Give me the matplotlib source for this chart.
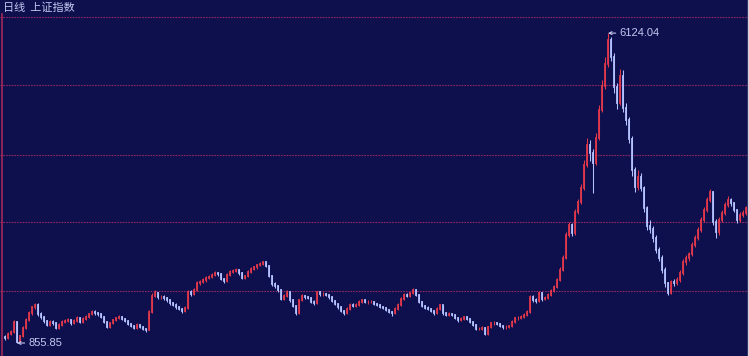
"""Shanghai Composite daily chart, dark terminal style"""
import matplotlib
matplotlib.use("Agg")
import matplotlib.pyplot as plt
import numpy as np

# levels, roughly one candle per 3 px column (late 1996 -> 2010)
closes = [
    941, 1009, 1043, 1213, 870, 975, 1111, 1247, 1366, 1468,
    1510, 1349, 1298, 1230, 1162, 1213, 1196, 1111, 1162, 1213,
    1230, 1247, 1196, 1230, 1281, 1213, 1264, 1298, 1349, 1383,
    1366, 1349, 1298, 1213, 1128, 1196, 1247, 1281, 1298, 1264,
    1230, 1179, 1145, 1111, 1162, 1128, 1094, 1077, 1383, 1655,
    1706, 1638, 1638, 1621, 1587, 1536, 1502, 1468, 1434, 1400,
    1451, 1723, 1689, 1757, 1876, 1893, 1927, 1961, 1978, 2012,
    2046, 2029, 1944, 1910, 2012, 2063, 2080, 2097, 2046, 1961,
    1995, 2063, 2114, 2148, 2182, 2199, 2230, 2165, 1995, 1859,
    1825, 1757, 1604, 1655, 1723, 1587, 1485, 1360, 1587, 1655,
    1638, 1621, 1553, 1536, 1723, 1689, 1689, 1672, 1638, 1570,
    1519, 1468, 1400, 1366, 1434, 1502, 1485, 1502, 1553, 1587,
    1553, 1553, 1553, 1519, 1502, 1468, 1451, 1417, 1383, 1366,
    1434, 1502, 1604, 1672, 1655, 1706, 1757, 1672, 1553, 1485,
    1451, 1434, 1400, 1366, 1434, 1502, 1366, 1332, 1349, 1332,
    1281, 1247, 1264, 1298, 1264, 1213, 1162, 1094, 1094, 1111,
    1010, 1128, 1196, 1196, 1179, 1145, 1128, 1128, 1145, 1213,
    1281, 1281, 1298, 1332, 1383, 1638, 1587, 1570, 1706, 1604,
    1621, 1672, 1740, 1808, 1927, 2097, 2301, 2692, 2862, 2726,
    3083, 3253, 3491, 3882, 4222, 4086, 3916, 4341, 4817, 5225,
    5600, 6000, 5718, 5200, 4936, 5400, 4850, 4650, 4330, 3797,
    3508, 3678, 3491, 3151, 2845, 2794, 2641, 2437, 2301, 2097,
    1876, 1710, 1893, 1876, 1927, 2046, 2233, 2301, 2369, 2522,
    2641, 2777, 2947, 3117, 3287, 3420, 2913, 2743, 2947, 3066,
    3202, 3287, 3236, 3117, 2947, 3032, 3066, 3151,
]
highs = [
    1000, 1040, 1080, 1250, 1230, 1000, 1140, 1280, 1400, 1490,
    1540, 1530, 1380, 1320, 1250, 1240, 1250, 1220, 1190, 1240,
    1260, 1280, 1270, 1260, 1310, 1300, 1290, 1330, 1370, 1410,
    1410, 1390, 1370, 1310, 1230, 1220, 1270, 1300, 1330, 1320,
    1280, 1250, 1200, 1160, 1190, 1180, 1150, 1110, 1410, 1700,
    1756, 1730, 1680, 1670, 1640, 1610, 1560, 1530, 1490, 1450,
    1480, 1750, 1760, 1790, 1910, 1930, 1960, 1990, 2010, 2040,
    2080, 2070, 2050, 1960, 2040, 2090, 2110, 2125, 2120, 2060,
    2020, 2090, 2140, 2170, 2200, 2225, 2245, 2240, 2180, 2010,
    1890, 1850, 1770, 1690, 1760, 1740, 1600, 1500, 1610, 1690,
    1680, 1660, 1640, 1580, 1748, 1740, 1720, 1710, 1690, 1650,
    1590, 1540, 1480, 1420, 1460, 1530, 1530, 1530, 1580, 1610,
    1600, 1590, 1580, 1570, 1540, 1520, 1490, 1470, 1430, 1400,
    1460, 1530, 1630, 1700, 1700, 1730, 1783, 1770, 1690, 1570,
    1500, 1480, 1450, 1410, 1460, 1520, 1510, 1380, 1380, 1370,
    1350, 1300, 1290, 1320, 1310, 1280, 1230, 1180, 1130, 1140,
    1130, 1150, 1220, 1230, 1220, 1190, 1160, 1160, 1170, 1240,
    1300, 1310, 1330, 1360, 1410, 1680, 1670, 1620, 1740, 1720,
    1660, 1700, 1770, 1840, 1960, 2140, 2350, 2740, 2920, 2900,
    3140, 3310, 3560, 3960, 4335, 4300, 4150, 4420, 4900, 5320,
    5720, 6124.04, 6050, 5780, 5280, 5520, 5500, 4930, 4700, 4380,
    3850, 3790, 3740, 3530, 3190, 2950, 2850, 2700, 2480, 2350,
    2140, 1900, 1930, 1950, 1980, 2090, 2280, 2350, 2410, 2570,
    2690, 2830, 3000, 3170, 3340, 3478, 3440, 2960, 2990, 3110,
    3250, 3361, 3320, 3260, 3140, 3080, 3110, 3190,
]
lows = [
    915, 925, 990, 1030, 855.85, 870, 960, 1100, 1230, 1340,
    1440, 1320, 1270, 1200, 1140, 1140, 1170, 1090, 1090, 1150,
    1190, 1210, 1170, 1180, 1210, 1190, 1200, 1250, 1280, 1330,
    1340, 1320, 1280, 1190, 1110, 1110, 1180, 1230, 1260, 1240,
    1210, 1160, 1120, 1090, 1100, 1110, 1070, 1047, 1070, 1370,
    1630, 1610, 1600, 1590, 1560, 1510, 1480, 1440, 1410, 1370,
    1380, 1440, 1660, 1670, 1740, 1850, 1870, 1900, 1940, 1960,
    1990, 2000, 1920, 1880, 1900, 1990, 2040, 2060, 2020, 1940,
    1940, 1980, 2040, 2090, 2120, 2160, 2180, 2140, 1970, 1830,
    1790, 1730, 1580, 1590, 1640, 1560, 1460, 1339, 1350, 1570,
    1610, 1600, 1530, 1510, 1520, 1660, 1660, 1650, 1610, 1550,
    1500, 1440, 1380, 1340, 1350, 1420, 1460, 1470, 1490, 1540,
    1530, 1520, 1530, 1500, 1480, 1450, 1430, 1400, 1360, 1307,
    1350, 1420, 1490, 1590, 1630, 1640, 1690, 1650, 1530, 1460,
    1430, 1410, 1380, 1340, 1350, 1420, 1340, 1310, 1320, 1310,
    1260, 1220, 1230, 1250, 1240, 1190, 1140, 1070, 1070, 1080,
    998.23, 1000, 1110, 1170, 1160, 1120, 1100, 1100, 1110, 1130,
    1200, 1250, 1260, 1280, 1320, 1370, 1560, 1540, 1550, 1570,
    1580, 1600, 1650, 1720, 1790, 1910, 2080, 2280, 2660, 2680,
    2700, 3050, 3220, 3450, 3850, 3950, 3404, 3880, 4300, 4780,
    5180, 5550, 5650, 5100, 4830, 4900, 4780, 4560, 4250, 3700,
    3420, 3460, 3440, 3080, 2780, 2730, 2580, 2380, 2250, 2040,
    1810, 1664.93, 1690, 1830, 1850, 1900, 2020, 2180, 2250, 2340,
    2490, 2600, 2740, 2910, 3080, 3250, 2870, 2640, 2700, 2920,
    3030, 3170, 3190, 3080, 2900, 2910, 3000, 3040,
]
first_open = 960
title = "日线  上证指数"

BG = "#0e104e"
GRID = "#8e2860"
UP = "#e0384a"
DOWN = "#b4c2ff"
TXT = "#c4c8f0"

W, H = 749, 356
fig = plt.figure(figsize=(W / 100, H / 100), dpi=100, facecolor=BG)
ax = fig.add_axes([0, 0, 1, 1])
ax.set_facecolor(BG)
for s in ax.spines.values():
    s.set_visible(False)
ax.set_xticks([])
ax.set_yticks([])

c = np.array(closes, dtype=float)
hi = np.array(highs, dtype=float)
lo = np.array(lows, dtype=float)
o = np.concatenate([[first_open], c[:-1]])
x = np.arange(len(c))
colors = np.where(c >= o, UP, DOWN)

# wicks then bodies
ax.vlines(x, lo, hi, colors=colors, linewidth=0.75, zorder=2)
body = ax.vlines(x, np.minimum(o, c), np.maximum(o, c),
                 colors=colors, linewidth=1.3, zorder=3)
body.set_capstyle("projecting")

# candle i sits at pixel 5 + 3*i; price scale ~17 points per pixel
ax.set_xlim(-5 / 3, (W - 5) / 3)
ax.set_ylim(635, 6687)

# dotted horizontal grid (equal pixel spacing as in the terminal)
for py in [17, 85, 155, 222, 291]:
    ax.plot([0, 1], [1 - py / H] * 2, transform=ax.transAxes,
            color=GRID, lw=0.8, ls=(0, (1.5, 1.0)), zorder=0)

# frame lines
ax.plot([1.5 / W] * 2, [0, 1 - 14 / H], transform=ax.transAxes,
        color="#a02858", lw=1.2, zorder=4)
ax.plot([1 - 1.5 / W] * 2, [0, 1], transform=ax.transAxes,
        color="#d0d0d8", lw=1.0, zorder=4)

# high / low markers
imax, imin = int(np.argmax(hi)), int(np.argmin(lo))
for i, v in ((imax, hi[imax]), (imin, lo[imin])):
    ax.annotate(f"{v:.2f}", xy=(i, v), xytext=(8.5, 0),
                textcoords="offset points", va="center", ha="left",
                color=TXT, fontsize=8, family="Liberation Sans",
                arrowprops=dict(arrowstyle="->", color=TXT, lw=0.8,
                                shrinkA=1, shrinkB=0, mutation_scale=5))

fig.text(3 / W, 1 - 8 / H, title, color=TXT, fontsize=8, va="center",
         ha="left", family=["Noto Sans CJK SC", "DejaVu Sans"])

fig.savefig("out.png", dpi=100, facecolor=BG)
